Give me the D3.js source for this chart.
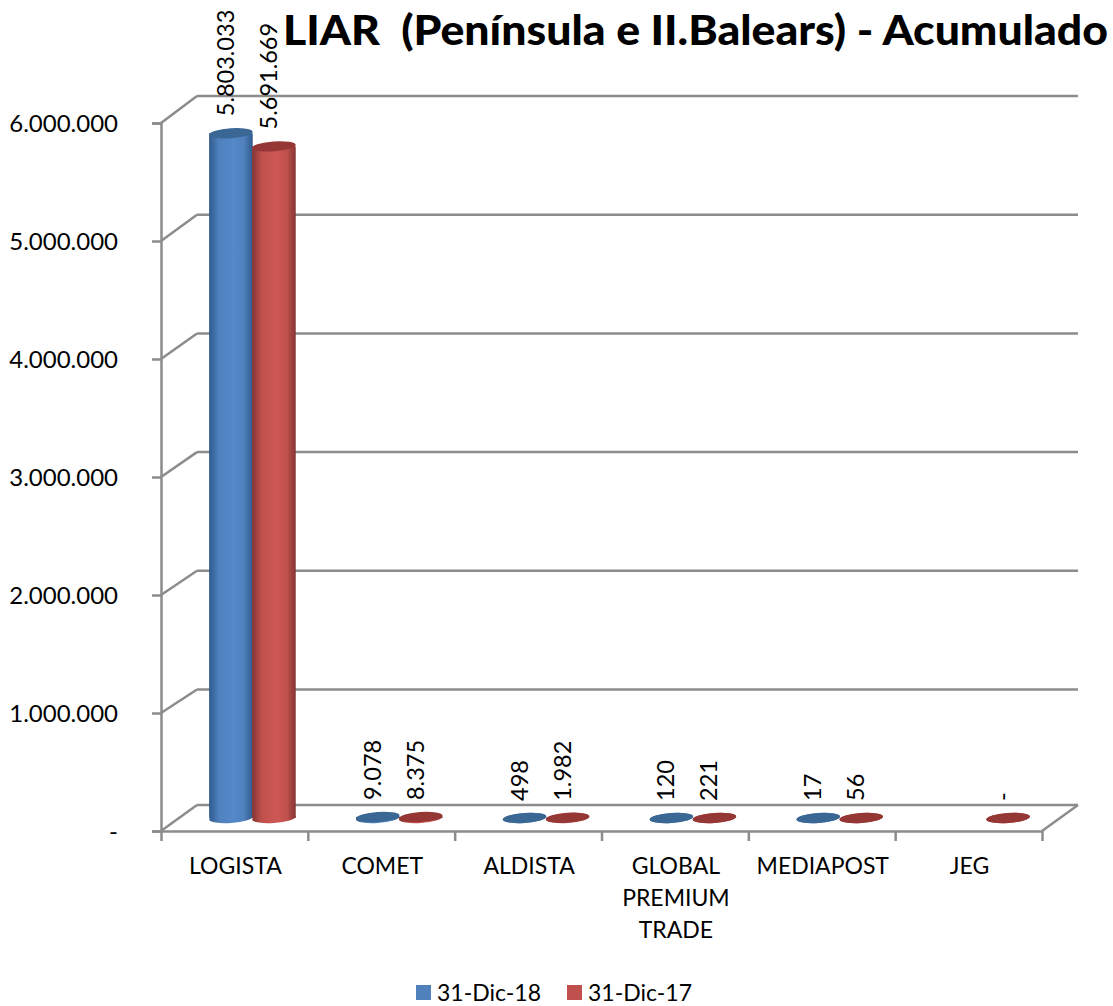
<!DOCTYPE html>
<html>
<head>
<meta charset="utf-8">
<script src="https://cdn.jsdelivr.net/npm/d3@7"></script>
<style>
  html, body { margin: 0; padding: 0; background: #fff; }
  text { font-family: Lato, "Open Sans", sans-serif; fill: #000; }
</style>
</head>
<body>
<div id="chart"></div>
<script>
const categories = ["LOGISTA", "COMET", "ALDISTA", "GLOBAL PREMIUM TRADE", "MEDIAPOST", "JEG"];
const seriesNames = ["31-Dic-18", "31-Dic-17"];
const values2018 = [5803033, 9078, 498, 120, 17, null];
const values2017 = [5691669, 8375, 1982, 221, 56, 0];
const yTicks = [0, 1000000, 2000000, 3000000, 4000000, 5000000, 6000000];
const titleText = "LIAR  (Península e II.Balears) - Acumulado";

const colors = [
  {main: "#4f81bd", edge: "#2f5a8c", light: "#5488c8", top: "#3b6795"},
  {main: "#c0504d", edge: "#843533", light: "#cd5754", top: "#953735"}
];

const width = 1113, height = 1006;
const depthX = 36, depthY = 26;
const axisColor = "#8c8c8c";

const svg = d3.select("#chart")
  .append("svg")
    .attr("width", width)
    .attr("height", height)
    .style("display", "block");

const y = d3.scaleLinear().domain([0, 6000000]).range([831, 123]);
// the back wall is not quite parallel to the front axis in the original
const yBack = d3.scaleLinear().domain([1000000, 6000000]).range([689.5, 96]);
const backY = d => d === 0 ? y(0) - depthY : yBack(d);
const x = d3.scaleBand().domain(categories).range([161, 1042]);
const inner = d3.scaleBand().domain([0, 1]).range([x.bandwidth() / 2 - 43, x.bandwidth() / 2 + 43]);

const numFormat = d3.formatLocale({decimal: ",", thousands: ".", grouping: [3], currency: ["", ""]}).format(",d");
const label = v => v === 0 ? "-" : numFormat(v);

// horizontal shading for the cylinders
const defs = svg.append("defs");
colors.forEach(function(c, i) {
  const g = defs.append("linearGradient").attr("id", "cyl" + i);
  g.append("stop").attr("offset", "0%").attr("stop-color", c.edge);
  g.append("stop").attr("offset", "22%").attr("stop-color", c.main);
  g.append("stop").attr("offset", "55%").attr("stop-color", c.light);
  g.append("stop").attr("offset", "80%").attr("stop-color", c.main);
  g.append("stop").attr("offset", "100%").attr("stop-color", c.edge);
});

// back wall lines and side diagonals
const frame = svg.append("g")
  .attr("stroke", axisColor)
  .attr("stroke-width", 2.5)
  .attr("fill", "none");

frame.selectAll(".grid")
  .data(yTicks)
  .enter()
  .append("line")
    .attr("x1", 161 + depthX)
    .attr("x2", 1042 + depthX)
    .attr("y1", d => backY(d))
    .attr("y2", d => backY(d));

frame.selectAll(".diag")
  .data(yTicks)
  .enter()
  .append("line")
    .attr("x1", 161)
    .attr("x2", 161 + depthX)
    .attr("y1", d => y(d))
    .attr("y2", d => backY(d));

frame.append("line")
  .attr("x1", 1042)
  .attr("x2", 1042 + depthX)
  .attr("y1", y(0))
  .attr("y2", y(0) - depthY);

// axes
const yAxis = svg.append("g")
  .attr("transform", "translate(161,0)")
  .call(d3.axisLeft(y).tickValues(yTicks).tickSize(9).tickPadding(34).tickFormat(label));

const xEdges = d3.scaleLinear().domain([0, categories.length]).range([161, 1042]);
const xAxis = svg.append("g")
  .attr("transform", "translate(0," + y(0) + ")")
  .call(d3.axisBottom(xEdges).tickValues(d3.range(categories.length + 1)).tickSize(10).tickSizeOuter(0).tickFormat(""));

svg.selectAll(".domain, .tick line")
  .attr("stroke", axisColor)
  .attr("stroke-width", 2.5);

yAxis.selectAll("text")
  .attr("y", 1)
  .style("font-size", "24px")
  .style("fill", "#000");

// category labels, wrapped on spaces
categories.forEach(function(name) {
  const t = svg.append("text")
    .attr("text-anchor", "middle")
    .style("font-size", "23px");
  name.split(" ").forEach(function(word, i) {
    t.append("tspan")
      .attr("x", x(name) + x.bandwidth() / 2 + 1)
      .attr("y", 874 + i * 32)
      .text(word);
  });
});

// cylinders
const rx = 21.8, ry = 5, tilt = -4;
[values2018, values2017].forEach(function(vals, s) {
  const c = colors[s];
  const points = categories.map((name, i) => ({name: name, value: vals[i]})).filter(d => d.value !== null);
  const cx = d => x(d.name) + inner(s) + inner.bandwidth() / 2 + depthX / 2;
  const base = y(0) - depthY / 2;
  const topY = d => y(d.value) - depthY / 2;

  const g = svg.append("g");

  g.selectAll(".bottom")
    .data(points)
    .enter()
    .append("ellipse")
      .attr("rx", rx)
      .attr("ry", ry)
      .attr("fill", `url(#cyl${s})`)
      .attr("transform", d => `translate(${cx(d)},${base}) rotate(${tilt})`);

  g.selectAll(".body")
    .data(points)
    .enter()
    .append("rect")
      .attr("x", d => cx(d) - rx)
      .attr("width", rx * 2)
      .attr("y", d => topY(d))
      .attr("height", d => base - topY(d))
      .attr("fill", `url(#cyl${s})`);

  g.selectAll(".top")
    .data(points)
    .enter()
    .append("ellipse")
      .attr("rx", rx)
      .attr("ry", ry)
      .attr("fill", c.top)
      .attr("transform", d => `translate(${cx(d)},${topY(d)}) rotate(${tilt})`);

  g.selectAll(".value")
    .data(points)
    .enter()
    .append("text")
      .attr("transform", d => `translate(${cx(d) + 3},${topY(d) - 17}) rotate(-90)`)
      .style("font-size", "23.5px")
      .text(d => label(d.value));
});

// title
svg.append("text")
  .attr("x", 283)
  .attr("y", 45)
  .attr("textLength", 825)
  .attr("lengthAdjust", "spacingAndGlyphs")
  .style("font-size", "41px")
  .style("font-weight", "900")
  .style("white-space", "pre")
  .text(titleText);

// legend
const legendX = [416, 567];
seriesNames.forEach(function(name, i) {
  svg.append("rect")
    .attr("x", legendX[i])
    .attr("y", 985)
    .attr("width", 15)
    .attr("height", 15)
    .attr("fill", colors[i].main);
  svg.append("text")
    .attr("x", legendX[i] + 21)
    .attr("y", 1001)
    .style("font-size", "23px")
    .text(name);
});
</script>
</body>
</html>
